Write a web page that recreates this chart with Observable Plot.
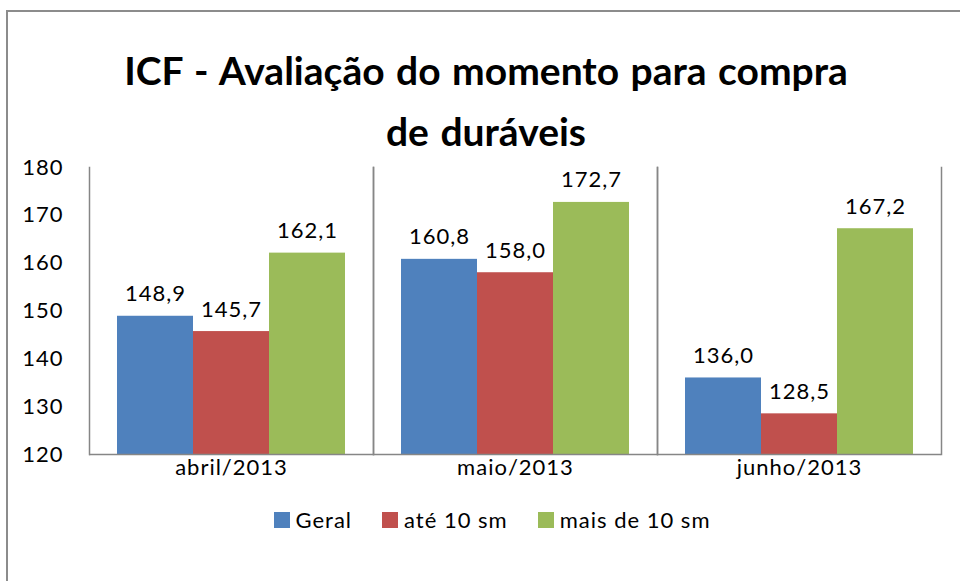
<!DOCTYPE html>
<html>
<head>
<meta charset="utf-8">
<script src="https://cdn.jsdelivr.net/npm/d3@7"></script>
<script src="https://cdn.jsdelivr.net/npm/@observablehq/plot@0.6"></script>
<style>
  html, body { margin: 0; padding: 0; background: #fff; }
  #chart { position: relative; width: 960px; height: 581px; overflow: hidden; font-family: Lato, "Open Sans", sans-serif; color: #000; }
  #border { position: absolute; left: 6px; top: 10px; width: 1000px; height: 1000px; border-left: 2px solid #8c8c8c; border-top: 2px solid #8c8c8c; box-sizing: border-box; }
  #title { position: absolute; left: 6px; top: 40px; width: 960px; text-align: center; font-weight: 700; font-size: 39px; line-height: 61px; word-spacing: 2px; }
  #plot { position: absolute; left: 0; top: 150px; }
  #legend { position: absolute; left: 12px; top: 507px; width: 960px; display: flex; justify-content: center; align-items: center; font-size: 22px; letter-spacing: 1px; line-height: 26px; }
  .item { display: flex; align-items: center; margin: 0 15px; }
  .sw { width: 16px; height: 16px; margin-right: 6px; }
</style>
</head>
<body>
<div id="chart">
  <div id="border"></div>
  <div id="title">ICF - Avaliação do momento para compra<br>de duráveis</div>
  <div id="plot"></div>
  <div id="legend"></div>
</div>
<script>
const categories = ["abril/2013", "maio/2013", "junho/2013"];
const series = ["Geral", "até 10 sm", "mais de 10 sm"];
const geral = [148.9, 160.8, 136.0];
const ate10 = [145.7, 158.0, 128.5];
const mais10 = [162.1, 172.7, 167.2];
const yTicks = [120, 130, 140, 150, 160, 170, 180];
const colors = ["#4F81BD", "#C0504D", "#9BBB59"];

const seriesValues = [geral, ate10, mais10];
const data = categories.flatMap((cat, i) =>
  series.map((s, j) => ({cat, serie: s, value: seriesValues[j][i]}))
);
const fmt = v => v.toFixed(1).replace(".", ",");
const axisColor = "#868686";

const chart = Plot.plot({
  width: 960,
  height: 360,
  marginLeft: 88,
  marginRight: 19,
  marginTop: 17,
  marginBottom: 56,
  style: {fontFamily: "Lato, 'Open Sans', sans-serif", fontSize: "22px", letterSpacing: "1px", color: "#000", background: "transparent", overflow: "visible"},
  fx: {domain: categories, padding: 0, label: null, axis: "bottom", tickSize: 0, tickPadding: 5},
  x: {domain: series, paddingInner: 0, paddingOuter: 0.36, axis: null},
  y: {domain: [yTicks[0], yTicks[yTicks.length - 1]], ticks: yTicks, tickSize: 0, tickPadding: 26, label: null, tickFormat: d => String(d)},
  color: {domain: series, range: colors},
  marks: [
    Plot.barY(data, {fx: "cat", x: "serie", y1: yTicks[0], y2: "value", fill: "serie"}),
    Plot.text(data, {fx: "cat", x: "serie", y: "value", text: d => fmt(d.value), dy: -15, lineAnchor: "bottom", fill: "#000", fontSize: 22}),
    Plot.frame({anchor: "left", stroke: axisColor, strokeWidth: 1.5}),
    Plot.frame({anchor: "right", stroke: axisColor, strokeWidth: 1.5}),
    Plot.ruleY([yTicks[0]], {stroke: axisColor, strokeWidth: 1.5})
  ]
});
document.getElementById("plot").appendChild(chart);

const legend = document.getElementById("legend");
series.forEach((s, i) => {
  const item = document.createElement("div");
  item.className = "item";
  const sw = document.createElement("div");
  sw.className = "sw";
  sw.style.background = colors[i];
  const label = document.createElement("span");
  label.textContent = s;
  item.appendChild(sw);
  item.appendChild(label);
  legend.appendChild(item);
});
</script>
</body>
</html>
